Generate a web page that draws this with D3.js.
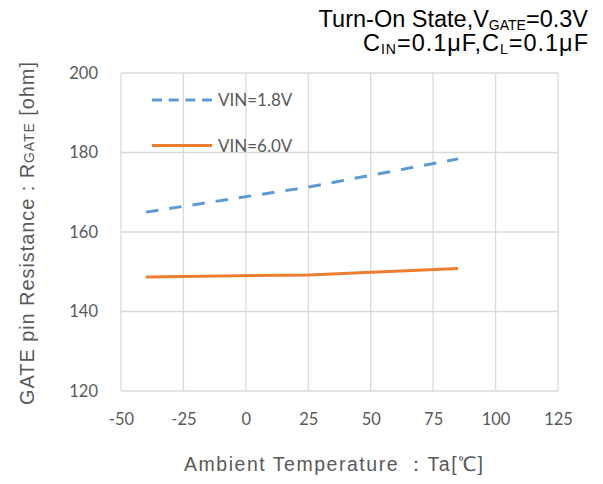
<!DOCTYPE html>
<html><head><meta charset="utf-8">
<script src="https://cdn.jsdelivr.net/npm/d3@7"></script>
<style>body{margin:0;background:#fff}svg{display:block}</style>
</head><body>
<svg id="c" width="603" height="484"></svg>
<script>
const temps = [-40, 25, 85];
const vin18 = [165.0, 171.3, 178.4];
const vin60 = [148.7, 149.2, 150.8];
const seriesNames = ["VIN=1.8V", "VIN=6.0V"];
const xTicks = [-50, -25, 0, 25, 50, 75, 100, 125];
const yTicks = [120, 140, 160, 180, 200];

const svg = d3.select("#c");
const x = d3.scaleLinear().domain([-50, 125]).range([121, 558]);
const y = d3.scaleLinear().domain([120, 200]).range([391, 73]);
const grid = "#d9d9d9", txt = "#595959";
const tickFont = "Lato, 'Open Sans', sans-serif";
const arial = "'Liberation Sans', Arial, sans-serif";

// gridlines
svg.append("g").selectAll("line").data(xTicks).join("line")
  .attr("x1", d => x(d)).attr("x2", d => x(d)).attr("y1", y(200)).attr("y2", y(120))
  .attr("stroke", grid).attr("stroke-width", 1.3);
svg.append("g").selectAll("line").data(yTicks).join("line")
  .attr("x1", x(-50)).attr("x2", x(125)).attr("y1", d => y(d)).attr("y2", d => y(d))
  .attr("stroke", grid).attr("stroke-width", 1.3);

// axes labels via d3 axes
const fmt = d => String(d);
const ax = svg.append("g").attr("transform", `translate(0,${y(120)})`)
  .call(d3.axisBottom(x).tickValues(xTicks).tickFormat(fmt).tickSize(0).tickPadding(22));
ax.select(".domain").remove();
ax.selectAll("text").attr("font-family", tickFont).attr("font-size", 16.5).attr("fill", txt);
const ay = svg.append("g").attr("transform", `translate(${x(-50)},0)`)
  .call(d3.axisLeft(y).tickValues(yTicks).tickFormat(fmt).tickSize(0).tickPadding(23));
ay.select(".domain").remove();
ay.selectAll("text").attr("font-family", tickFont).attr("font-size", 16.5).attr("fill", txt);

// lines
const line = d3.line().x(d => x(d[0])).y(d => y(d[1]));
svg.append("path").datum(temps.map((t, i) => [t, vin18[i]]))
  .attr("d", line).attr("fill", "none").attr("stroke", "#5b9bd5").attr("stroke-width", 3)
  .attr("stroke-dasharray", "12.5,11");
svg.append("path").datum(temps.map((t, i) => [t, vin60[i]]))
  .attr("d", line).attr("fill", "none").attr("stroke", "#ed7d31").attr("stroke-width", 3);

// legend
const leg = [
  {name: seriesNames[0], color: "#5b9bd5", dash: "10,6.7", yy: 100},
  {name: seriesNames[1], color: "#ed7d31", dash: null, yy: 145.5}
];
leg.forEach(l => {
  svg.append("line").attr("x1", 152).attr("x2", 212).attr("y1", l.yy).attr("y2", l.yy)
    .attr("stroke", l.color).attr("stroke-width", 3).attr("stroke-dasharray", l.dash);
  svg.append("text").attr("x", 218).attr("y", l.yy).attr("dy", "0.36em")
    .attr("font-family", tickFont).attr("font-size", 17).attr("fill", txt).text(l.name);
});

// title
const t1 = svg.append("text").attr("x", 588).attr("y", 26.5).attr("text-anchor", "end")
  .attr("font-family", arial).attr("font-size", 23.5).attr("fill", "#000");
t1.append("tspan").text("Turn-On State,V");
t1.append("tspan").attr("font-size", 14).attr("dy", 3).text("GATE");
t1.append("tspan").attr("dy", -3).text("=0.3V");
const t2 = svg.append("text").attr("x", 588).attr("y", 50.5).attr("text-anchor", "end")
  .attr("font-family", arial).attr("font-size", 23.5).attr("fill", "#000")
  .attr("textLength", 225).attr("lengthAdjust", "spacing");
t2.append("tspan").text("C");
t2.append("tspan").attr("font-size", 14).attr("dy", 3).text("IN");
t2.append("tspan").attr("dy", -3).text("=0.1μF,C");
t2.append("tspan").attr("font-size", 14).attr("dy", 3).text("L");
t2.append("tspan").attr("dy", -3).text("=0.1μF");

// x title
svg.append("text").attr("x", 333.5).attr("y", 471).attr("text-anchor", "middle")
  .attr("font-family", arial).attr("font-size", 19.5).attr("fill", txt)
  .attr("textLength", 299).attr("lengthAdjust", "spacing")
  .text("Ambient  Temperature  ：Ta[℃]");

// y title
const yt = svg.append("text").attr("transform", "translate(34,233.5) rotate(-90)")
  .attr("text-anchor", "middle").attr("font-family", arial).attr("font-size", 20).attr("fill", txt)
  .attr("textLength", 343).attr("lengthAdjust", "spacing");
yt.append("tspan").text("GATE  pin  Resistance : R");
yt.append("tspan").attr("font-size", 14).text("GATE");
yt.append("tspan").text(" [ohm]");
</script>
</body></html>
